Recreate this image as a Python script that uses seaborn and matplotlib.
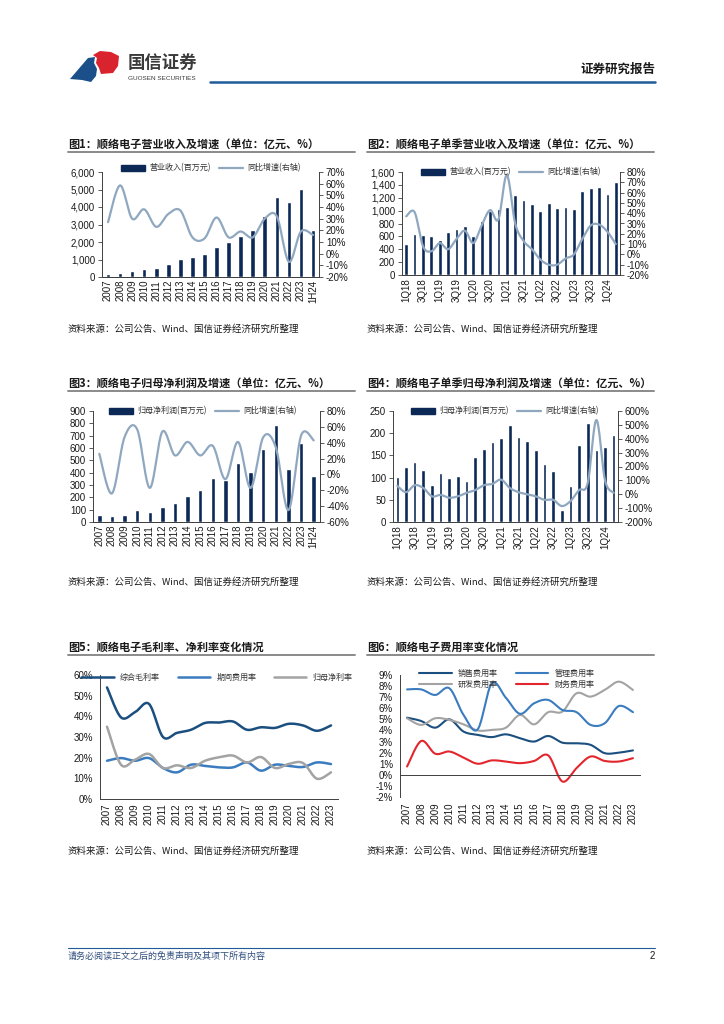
import numpy as np
import matplotlib
matplotlib.use("Agg")
import matplotlib.pyplot as plt
import seaborn as sns
import pandas as pd
from matplotlib.patches import Polygon, Patch
from matplotlib.lines import Line2D
from matplotlib.ticker import FuncFormatter, MultipleLocator

# ---------------- data ----------------
years = ['2007', '2008', '2009', '2010', '2011', '2012', '2013', '2014', '2015',
         '2016', '2017', '2018', '2019', '2020', '2021', '2022', '2023', '1H24']
revenue = [150, 230, 325, 440, 533, 724, 1010, 1162, 1295, 1714, 2000, 2343,
           2667, 3467, 4590, 4267, 5048, 2667]
revenue_growth = [27, 58.5, 30, 38, 23, 34, 37, 14, 13, 31, 14, 19, 14, 30, 32, -7, 19, 16]

quarters = ['1Q18', '2Q18', '3Q18', '4Q18', '1Q19', '2Q19', '3Q19', '4Q19',
            '1Q20', '2Q20', '3Q20', '4Q20', '1Q21', '2Q21', '3Q21', '4Q21',
            '1Q22', '2Q22', '3Q22', '4Q22', '1Q23', '2Q23', '3Q23', '4Q23',
            '1Q24', '2Q24']
q_revenue = [480, 640, 620, 605, 545, 670, 710, 760, 600, 840, 1000, 1020,
             1050, 1250, 1160, 1100, 1000, 1120, 1035, 1050, 1020, 1300,
             1345, 1360, 1255, 1440]
q_revenue_growth = [37, 41, 8, 3, 11, 5, 15, 23, 11, 28, 43, 34, 77, 30, 13, 5,
                    -5, -10, -10, -4, 0, 15, 28, 29, 22, 10]

net_profit = [54, 46, 59, 100, 78, 122, 151, 214, 262, 360, 338, 478, 403, 589,
              789, 432, 638, 370]
net_profit_growth = [26, -24, 47, 57, -17, 54, 24, 41, 24, 36, -6, 41, -17, 47,
                     34, -45, 49, 43]

q_net_profit = [102, 124, 135, 117, 83, 111, 100, 104, 93, 147, 165, 181, 190,
                219, 192, 183, 162, 131, 114, 26, 80, 174, 222, 163, 170, 197]
q_net_profit_growth = [60, 15, 65, 45, -15, -5, -25, -15, 10, 30, 65, 75, 105,
                       45, 15, 0, -15, -40, -40, -85, -50, 30, 80, 535, 100, 10]

years_m = ['2007', '2008', '2009', '2010', '2011', '2012', '2013', '2014', '2015',
           '2016', '2017', '2018', '2019', '2020', '2021', '2022', '2023']
gross_margin = [54, 39.5, 42, 46, 30, 32, 33.5, 36.8, 37, 37.5, 33.5, 34.7, 34.4,
                36.4, 35.6, 33, 35.6]
period_expense = [18.5, 19.8, 18.5, 19.8, 15, 12.9, 16.6, 16, 15.3, 15.3, 17.7,
                  13.7, 16.6, 16, 15.5, 17.7, 16.9]
net_margin = [35, 16.6, 19, 21.8, 15, 16.3, 15, 18.5, 20.2, 21, 17.7, 20.3, 15,
              17, 17.4, 9.8, 12.9]

selling_rate = [5.15, 4.85, 4.25, 5.0, 3.9, 3.6, 3.4, 3.65, 3.3, 3.0, 3.5, 2.9,
                2.85, 2.7, 1.95, 2.0, 2.2]
admin_rate = [7.7, 7.7, 7.2, 7.8, 5.4, 4.1, 8.25, 6.95, 5.5, 6.45, 6.75, 5.85,
              5.65, 4.5, 4.65, 6.2, 5.65]
rnd_rate = [5.1, 4.5, 5.1, 4.95, 4.55, 4.0, 4.05, 4.25, 5.4, 4.55, 5.65, 5.7,
            7.35, 7.05, 7.65, 8.4, 7.65]
finance_rate = [0.75, 3.05, 1.9, 2.1, 1.55, 1.0, 1.3, 1.2, 1.05, 1.25, 1.75, -0.6,
                0.6, 1.65, 1.25, 1.2, 1.5]

# ---------------- style ----------------
W, H = 724, 1024
NAVY = '#0C2856'
GROWTH = '#8FA8C0'
DARKBLUE = '#1B4F7F'
MIDBLUE = '#3A7CBF'
GRAY = '#A3A3A3'
RED = '#E3262E'
SPINE = '#404040'
CJK = ['Noto Sans CJK SC', 'DejaVu Sans']
NUMF = ['Liberation Sans', 'DejaVu Sans']

sns.set_theme(style="white")
plt.rcParams['font.family'] = CJK
plt.rcParams['axes.unicode_minus'] = False

fig = plt.figure(figsize=(W / 100, H / 100), dpi=100)
fig.patch.set_facecolor('white')


def rect(l, t, r, b):
    return [l / W, 1 - b / H, (r - l) / W, (b - t) / H]


def fx(x):
    return x / W


def fy(y):
    return 1 - y / H


def smooth(x, y, n=20):
    P = np.column_stack([np.asarray(x, float), np.asarray(y, float)])
    segs = []
    for i in range(len(P) - 1):
        p0 = P[i - 1] if i > 0 else P[i]
        p1, p2 = P[i], P[i + 1]
        p3 = P[i + 2] if i + 2 < len(P) else P[i + 1]
        c1 = p1 + (p2 - p0) / 6
        c2 = p2 - (p3 - p1) / 6
        t = np.linspace(0, 1, n, endpoint=False)[:, None]
        segs.append((1 - t) ** 3 * p1 + 3 * (1 - t) ** 2 * t * c1
                    + 3 * (1 - t) * t ** 2 * c2 + t ** 3 * p2)
    segs.append(P[-1:])
    out = np.vstack(segs)
    return out[:, 0], out[:, 1]


def style_numbers(ax):
    for lab in ax.get_xticklabels() + ax.get_yticklabels():
        lab.set_fontfamily(NUMF)
        lab.set_fontsize(7)
        lab.set_color('#1a1a1a')


def cat_axis(ax, cats, every=1, pad=2):
    n = len(cats)
    ax.set_xlim(-0.5, n - 0.5)
    pos = list(range(0, n, every))
    ax.set_xticks(pos)
    ax.set_xticklabels([cats[i] for i in pos], rotation=90)
    ax.set_xticks(np.arange(n + 1) - 0.5, minor=True)
    ax.tick_params(axis='x', which='major', length=0, pad=pad)
    ax.tick_params(axis='x', which='minor', length=3, width=0.6,
                   direction='out', color=SPINE)
    ax.set_xlabel('')


def combo(box, cats, bars, growth, ylim, ystep, y2lim, y2step, bar_name,
          width, every, legend_xy):
    ax = fig.add_axes(rect(*box))
    df = pd.DataFrame({'cat': cats, 'val': bars})
    sns.barplot(data=df, x='cat', y='val', color=NAVY, width=width,
                saturation=1, ax=ax)
    ax.set_ylim(*ylim)
    ax.yaxis.set_major_locator(MultipleLocator(ystep))
    ax.yaxis.set_major_formatter(FuncFormatter(lambda v, _: f"{v:,.0f}"))
    ax.set_ylabel('')
    cat_axis(ax, cats, every)
    ax2 = ax.twinx()
    xs, ys = smooth(range(len(cats)), growth)
    sns.lineplot(x=xs, y=ys, ax=ax2, color=GROWTH, lw=1.6, sort=False,
                 estimator=None)
    ax2.set_ylim(*y2lim)
    ax2.yaxis.set_major_locator(MultipleLocator(y2step))
    ax2.yaxis.set_major_formatter(FuncFormatter(lambda v, _: f"{v:.0f}%"))
    ax2.set_ylabel('')
    ax.set_xlim(-0.5, len(cats) - 0.5)
    for a in (ax, ax2):
        a.set_facecolor('none')
        a.spines['top'].set_visible(False)
        for s in ('left', 'right', 'bottom'):
            a.spines[s].set_color(SPINE)
            a.spines[s].set_linewidth(0.7)
        a.tick_params(axis='y', length=3, width=0.6, direction='out',
                      color=SPINE, pad=2)
        style_numbers(a)
    ax.spines['right'].set_visible(False)
    ax2.spines['left'].set_visible(False)
    handles = [Patch(color=NAVY), Line2D([], [], color=GROWTH, lw=1.6)]
    fig.legend(handles, [bar_name, '同比增速(右轴)'], ncol=2, loc='center',
               bbox_to_anchor=(fx(legend_xy[0]), fy(legend_xy[1])),
               frameon=False, prop={'family': CJK, 'size': 5.8},
               handlelength=3.0, handleheight=0.8, columnspacing=1.0,
               handletextpad=0.5, labelcolor='#333333')
    return ax, ax2


def lines_chart(box, cats, series, colors, ylim, ystep, lw, legend_xy,
                ncol, zero_axis=False):
    ax = fig.add_axes(rect(*box))
    n = len(cats)
    handles, names = [], []
    for (name, vals), c in zip(series, colors):
        xs, ys = smooth(range(n), vals)
        sns.lineplot(x=xs, y=ys, ax=ax, color=c, lw=lw, sort=False,
                     estimator=None)
        handles.append(Line2D([], [], color=c, lw=lw))
        names.append(name)
    ax.set_ylim(*ylim)
    ax.yaxis.set_major_locator(MultipleLocator(ystep))
    ax.yaxis.set_major_formatter(FuncFormatter(lambda v, _: f"{v:.0f}%"))
    ax.set_ylabel('')
    # label pad so labels sit below the plot bottom
    pad = 3
    if zero_axis:
        ax.spines['bottom'].set_position(('data', 0))
        hpx = box[3] - box[1]
        frac = (0 - ylim[0]) / (ylim[1] - ylim[0])
        pad = (frac * hpx + 5) * 0.72
    cat_axis(ax, cats, 1, pad=pad)
    ax.set_facecolor('none')
    ax.spines['top'].set_visible(False)
    ax.spines['right'].set_visible(False)
    for s in ('left', 'bottom'):
        ax.spines[s].set_color(SPINE)
        ax.spines[s].set_linewidth(0.7)
    ax.tick_params(axis='y', length=3, width=0.6, direction='out',
                   color=SPINE, pad=2)
    style_numbers(ax)
    fig.legend(handles, names, ncol=ncol, loc='center',
               bbox_to_anchor=(fx(legend_xy[0]), fy(legend_xy[1])),
               frameon=False, prop={'family': CJK, 'size': 5.8},
               handlelength=4.0, columnspacing=2.2, handletextpad=0.8,
               labelspacing=0.3, labelcolor='#333333')
    return ax


# ---------------- charts ----------------
combo((102, 172, 319, 277), years, revenue, revenue_growth, (0, 6000), 1000,
      (-20, 70), 10, '营业收入(百万元)', 0.38, 1, (211, 168))
combo((402, 172, 620, 275), quarters, q_revenue, q_revenue_growth, (0, 1600), 200,
      (-20, 80), 10, '营业收入(百万元)', 0.45, 2, (511, 172))
combo((93, 411, 320, 522), years, net_profit, net_profit_growth, (0, 900), 100,
      (-60, 80), 20, '归母净利润(百万元)', 0.35, 1, (203, 411))
combo((393, 411, 618, 522), quarters, q_net_profit, q_net_profit_growth, (0, 250), 50,
      (-200, 600), 100, '归母净利润(百万元)', 0.42, 2, (505, 411))

lines_chart((100, 675, 338, 799), years_m,
            [('综合毛利率', gross_margin), ('期间费用率', period_expense),
             ('归母净利率', net_margin)],
            [DARKBLUE, MIDBLUE, GRAY], (0, 60), 10, 1.8, (217, 677), 3)

lines_chart((400, 675, 640, 797), years_m,
            [('销售费用率', selling_rate), ('研发费用率', rnd_rate),
             ('管理费用率', admin_rate), ('财务费用率', finance_rate)],
            [DARKBLUE, GRAY, MIDBLUE, RED], (-2, 9), 1, 1.5, (507, 679), 2,
            zero_axis=True)

# ---------------- page decorations ----------------
titles = [
    (68, 144, '图1：顺络电子营业收入及增速（单位：亿元、%）'),
    (367, 144, '图2：顺络电子单季营业收入及增速（单位：亿元、%）'),
    (68, 383, '图3：顺络电子归母净利润及增速（单位：亿元、%）'),
    (367, 383, '图4：顺络电子单季归母净利润及增速（单位：亿元、%）'),
    (68, 647, '图5：顺络电子毛利率、净利率变化情况'),
    (367, 647, '图6：顺络电子费用率变化情况'),
]
for x, y, t in titles:
    fig.text(fx(x), fy(y), t, ha='left', va='center', fontsize=8,
             fontweight='bold', color='#1a1a1a', family=CJK)
    fig.add_artist(Line2D([fx(x), fx(x + 287)], [fy(y + 8), fy(y + 8)],
                          color='#8a8a8a', lw=1.4))

src = '资料来源：公司公告、Wind、国信证券经济研究所整理'
for x, y in [(68, 329), (367, 329), (68, 582), (367, 582), (68, 851), (367, 851)]:
    fig.text(fx(x), fy(y), src, ha='left', va='center', fontsize=6.8,
             color='#1a1a1a', family=CJK)

# header
fig.add_artist(Polygon([(fx(70), fy(79)), (fx(88), fy(58)), (fx(95), fy(57)),
                        (fx(94), fy(63)), (fx(97), fy(69)), (fx(96), fy(76)),
                        (fx(91), fy(82)), (fx(82), fy(80))],
                       closed=True, color='#1B4F8A', lw=0))
fig.add_artist(Polygon([(fx(93), fy(55)), (fx(100), fy(51)), (fx(111), fy(52)),
                        (fx(119), fy(56)), (fx(118), fy(66)), (fx(113), fy(73)),
                        (fx(101), fy(74)), (fx(99), fy(68)), (fx(96), fy(63)),
                        (fx(97), fy(58))],
                       closed=True, color='#D9232E', lw=0))
fig.text(fx(128), fy(63), '国信证券', ha='left', va='center', fontsize=12.5,
         fontweight='bold', color='#3a3a3a', family=CJK)
fig.text(fx(128), fy(79), 'GUOSEN SECURITIES', ha='left', va='center',
         fontsize=4.6, color='#3a3a3a', family=NUMF)
fig.text(fx(655), fy(69), '证券研究报告', ha='right', va='center', fontsize=9,
         fontweight='bold', color='#1a1a1a', family=CJK)
fig.add_artist(Line2D([fx(210), fx(655)], [fy(81.5), fy(81.5)],
                      color='#1F5C99', lw=1.8))

# footer
fig.add_artist(Line2D([fx(68), fx(655)], [fy(948), fy(948)],
                      color='#1F5C99', lw=0.8))
fig.text(fx(68), fy(956), '请务必阅读正文之后的免责声明及其项下所有内容', ha='left',
         va='center', fontsize=6.5, color='#2F4F7F', family=CJK, style='italic')
fig.text(fx(655), fy(956), '2', ha='right', va='center', fontsize=7,
         color='#1a1a1a', family=NUMF)

fig.savefig('out.png', dpi=100, facecolor='white')
